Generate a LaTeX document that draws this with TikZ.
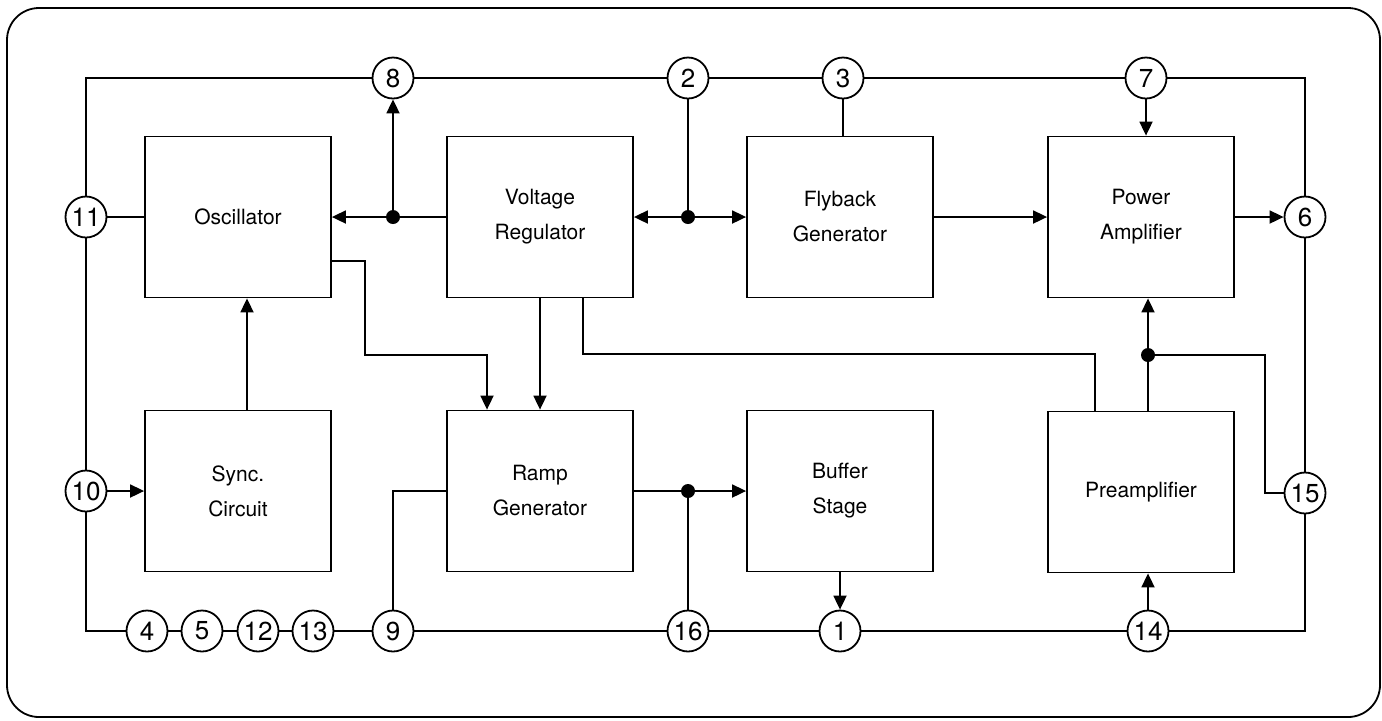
\documentclass[tikz,border=0pt]{standalone}
\usepackage{fontspec}
\setmainfont{TeX Gyre Heros}
\usetikzlibrary{arrows.meta}

\begin{document}
\begin{tikzpicture}[x=0.5pt,y=-0.5pt,line width=0.9pt,
  block/.style={rectangle,draw,minimum width=93pt,minimum height=80.5pt,
    align=center,font=\fontsize{10.5}{17.5}\selectfont},
  pin/.style={circle,draw,fill=white,minimum size=20.5pt,inner sep=0pt,
    font=\fontsize{13}{13}\selectfont},
  arr/.style={-{Triangle[length=7pt,width=6.5pt]}},
  dot/.style={circle,fill,inner sep=0pt,minimum size=7pt}]
\useasboundingbox (0,0) rectangle (1382,720);
\draw[rounded corners=16pt] (7,8) rectangle (1380,717);

% blocks
\node[block] (osc)  at (238,217)  {Oscillator};
\node[block] (vreg) at (540,217)  {Voltage\\Regulator};
\node[block] (fly)  at (840,217)  {Flyback\\Generator};
\node[block] (pamp) at (1141,217) {Power\\Amplifier};
\node[block] (sync) at (238,491)  {Sync.\\Circuit};
\node[block] (ramp) at (540,491)  {Ramp\\Generator};
\node[block] (buf)  at (840,491)  {Buffer\\Stage};
\node[block] (pre)  at (1141,492) {Preamplifier};

% pins
\node[pin] (p8)  at (393,78)   {8};
\node[pin] (p2)  at (688,78)   {2};
\node[pin] (p3)  at (843,78)   {3};
\node[pin] (p7)  at (1146,78)  {7};
\node[pin] (p11) at (86,217)   {11};
\node[pin] (p10) at (86,491)   {10};
\node[pin] (p6)  at (1305,217) {6};
\node[pin] (p15) at (1305,493) {15};
\node[pin] (p4)  at (147,631)  {4};
\node[pin] (p5)  at (202,631)  {5};
\node[pin] (p12) at (258,631)  {12};
\node[pin] (p13) at (313,631)  {13};
\node[pin] (p9)  at (393,631)  {9};
\node[pin] (p16) at (688,631)  {16};
\node[pin] (p1)  at (840,631)  {1};
\node[pin] (p14) at (1148,631) {14};

% outer pin ring
\draw (p11) |- (p8) -- (p2) -- (p3) -- (p7) -| (p6);
\draw (p11) -- (p10) |- (p4) -- (p5) -- (p12) -- (p13) -- (p9) -- (p16)
  -- (p1) -- (p14) -| (p15) -- (p6);

% upper row
\coordinate (j8) at (p8 |- osc);
\coordinate (j2) at (p2 |- vreg);
\draw (p11) -- (osc);
\draw[arr] (vreg) -- (osc);
\draw[arr] (j8) -- (p8);
\draw[arr] (j2) -- (vreg.east);
\draw[arr] (j2) -- (fly.west);
\draw (j2) -- (p2);
\draw (p3) -- (p3 |- fly.north);
\draw[arr] (fly) -- (pamp);
\draw[arr] (p7) -- (p7 |- pamp.north);
\draw[arr] (pamp) -- (p6);

% cross links
\draw[arr] (osc.east |- 0,261) -- (365,261) |- (487,355) -- (ramp.north -| 487,0);
\draw[arr] (vreg) -- (ramp);
\draw (vreg.south -| 583,0) |- (1095,354) -- (pre.north -| 1095,0);
\coordinate (jp) at (1148,355);
\draw (pre.north -| jp) -- (jp);
\draw[arr] (jp) -- (pamp.south -| jp);
\draw (jp) -- (1265,355) |- (p15);

% lower row
\coordinate (j16) at (p16 |- ramp);
\draw[arr] (sync.north -| 247,0) -- (osc.south -| 247,0);
\draw[arr] (p10) -- (sync.west |- p10);
\draw (p9) |- (ramp.west);
\draw[arr] (ramp) -- (buf);
\draw (j16) -- (p16);
\draw[arr] (buf.south -| p1) -- (p1);
\draw[arr] (p14) -- (pre.south -| p14);

% junction dots
\node[dot] at (j8) {};
\node[dot] at (j2) {};
\node[dot] at (jp) {};
\node[dot] at (j16) {};
\end{tikzpicture}
\end{document}
